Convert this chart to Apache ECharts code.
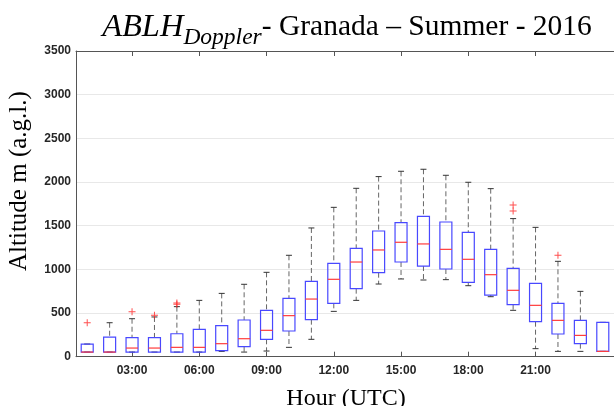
<!DOCTYPE html>
<html>
<head>
<meta charset="utf-8">
<script src="https://cdn.jsdelivr.net/npm/echarts@6/dist/echarts.min.js"></script>
<style>html,body{margin:0;padding:0;background:#fff}#c{width:614px;height:406px}</style>
</head>
<body>
<div id="c"></div>
<script>
// Hours 01:00 ... 24:00
const hours = ['01:00','02:00','03:00','04:00','05:00','06:00','07:00','08:00','09:00','10:00','11:00','12:00',
               '13:00','14:00','15:00','16:00','17:00','18:00','19:00','20:00','21:00','22:00','23:00','24:00'];
const whiskerLow = [53, 53, 53, 53, 53, 53, 61, 53, 65, 107, 199, 519, 645, 832, 890, 878, 882, 813, 687, 531, 92, 61, 61, 61];
const q1 =         [53, 53, 53, 53, 53, 53, 69, 115, 199, 294, 424, 611, 779, 962, 1084, 1038, 1004, 851, 706, 596, 401, 260, 149, 61];
const median =     [53, 53, 99, 99, 107, 107, 149, 206, 302, 470, 660, 886, 1084, 1222, 1310, 1291, 1229, 1115, 939, 760, 588, 416, 244, 61];
const q3 =         [145, 225, 218, 218, 263, 313, 355, 420, 531, 668, 863, 1069, 1241, 1439, 1535, 1607, 1542, 1424, 1229, 1012, 840, 611, 416, 393];
const whiskerHigh =[145, 389, 435, 455, 573, 645, 725, 829, 966, 1161, 1474, 1710, 1928, 2062, 2123, 2146, 2077, 1997, 1924, 1581, 1481, 1092, 748, 393];
// outliers: [hour index, value]
const outliers = [[0, 389], [2, 515], [3, 475], [4, 600], [4, 615], [19, 1668], [19, 1737], [21, 1161]];
const yTicks = [0, 500, 1000, 1500, 2000, 2500, 3000, 3500];
const labelHours = ['03:00','06:00','09:00','12:00','15:00','18:00','21:00'];

const boxData = hours.map((h, i) => [i, whiskerLow[i], q1[i], median[i], q3[i], whiskerHigh[i]]);

const chart = echarts.init(document.getElementById('c'), null, {renderer: 'canvas'});
const axisColor = '#555';
const labelColor = '#262626';
const option = {
  backgroundColor: '#fff',
  animation: false,
  title: {
    left: 342, textAlign: 'center', top: 0,
    text: '{a|ABLH}{b|Doppler}{c|- Granada – Summer - 2016}',
    textStyle: {
      fontWeight: 'normal',
      rich: {
        a: {fontFamily: 'Liberation Serif', fontStyle: 'italic', fontWeight: 'normal', fontSize: 32.5, color: '#000', verticalAlign: 'middle', lineHeight: 44},
        b: {fontFamily: 'Liberation Serif', fontStyle: 'italic', fontWeight: 'normal', fontSize: 23.5, color: '#000', verticalAlign: 'bottom', lineHeight: 22},
        c: {fontFamily: 'Liberation Serif', fontWeight: 'normal', fontSize: 29.5, color: '#000', verticalAlign: 'middle', lineHeight: 44}
      }
    }
  },
  grid: {left: 76, top: 51, width: 546.2, height: 305.7, containLabel: false},
  xAxis: [{
    type: 'category', data: hours, boundaryGap: true, position: 'bottom',
    axisLine: {show: true, lineStyle: {color: axisColor, width: 1}},
    axisTick: {show: true, inside: true, length: 5, alignWithLabel: true,
               interval: (i, v) => labelHours.includes(v), lineStyle: {color: axisColor}},
    axisLabel: {interval: (i, v) => labelHours.includes(v), color: labelColor, fontFamily: 'Liberation Sans',
                fontWeight: 'bold', fontSize: 12, margin: 8},
    splitLine: {show: false}
  }, {
    type: 'category', data: hours, boundaryGap: true, position: 'top',
    axisLine: {show: true, lineStyle: {color: axisColor, width: 1}},
    axisTick: {show: true, inside: true, length: 5, alignWithLabel: true,
               interval: (i, v) => labelHours.includes(v), lineStyle: {color: axisColor}},
    axisLabel: {show: false}, splitLine: {show: false}
  }],
  yAxis: {
    type: 'value', min: yTicks[0], max: yTicks[yTicks.length - 1], interval: 500,
    axisLine: {show: true, lineStyle: {color: axisColor, width: 1}},
    axisTick: {show: false},
    axisLabel: {color: labelColor, fontFamily: 'Liberation Sans', fontWeight: 'bold', fontSize: 12, margin: 5,
                formatter: v => String(v)},
    splitLine: {show: true, lineStyle: {color: '#e8e8e8', width: 1}}
  },
  graphic: [
    {type: 'text', rotation: Math.PI / 2, x: 7, y: 271,
     style: {text: 'Altitude m (a.g.l.)', font: '25px "Liberation Serif"', fill: '#000'}},
    {type: 'text', x: 346, y: 387,
     style: {text: 'Hour (UTC)', font: '24px "Liberation Serif"', fill: '#000', align: 'center'}}
  ],
  series: [{
    type: 'custom',
    name: 'ABLH',
    data: boxData,
    encode: {x: 0, y: [1, 2, 3, 4, 5]},
    clip: false,
    renderItem: function (params, api) {
      const i = api.value(0);
      const x = api.coord([i, 0])[0];
      const yLo = api.coord([i, api.value(1)])[1];
      const yQ1 = api.coord([i, api.value(2)])[1];
      const yMed = api.coord([i, api.value(3)])[1];
      const yQ3 = api.coord([i, api.value(4)])[1];
      const yHi = api.coord([i, api.value(5)])[1];
      const hw = 6, cw = 3;
      const dash = {stroke: '#666', lineWidth: 1, lineDash: [5, 3]};
      const cap = {stroke: '#333', lineWidth: 1};
      return {type: 'group', children: [
        {type: 'line', shape: {x1: x, y1: yHi, x2: x, y2: yQ3}, style: dash},
        {type: 'line', shape: {x1: x, y1: yQ1, x2: x, y2: yLo}, style: dash},
        {type: 'line', shape: {x1: x - cw, y1: yHi, x2: x + cw, y2: yHi}, style: cap},
        {type: 'line', shape: {x1: x - cw, y1: yLo, x2: x + cw, y2: yLo}, style: cap},
        {type: 'rect', shape: {x: x - hw, y: yQ3, width: hw * 2, height: yQ1 - yQ3},
         style: {fill: 'none', stroke: '#4848ff', lineWidth: 1.2}},
        {type: 'line', shape: {x1: x - hw, y1: yMed, x2: x + hw, y2: yMed},
         style: {stroke: '#ff3c3c', lineWidth: 1.2}}
      ]};
    },
    z: 3
  }, {
    type: 'scatter',
    data: outliers,
    symbol: 'path://M4.3,0H5.7V4.3H10V5.7H5.7V10H4.3V5.7H0V4.3H4.3Z',
    symbolSize: 7,
    itemStyle: {color: '#ff2020'},
    z: 4
  }]
};
chart.setOption(option);
</script>
</body>
</html>
